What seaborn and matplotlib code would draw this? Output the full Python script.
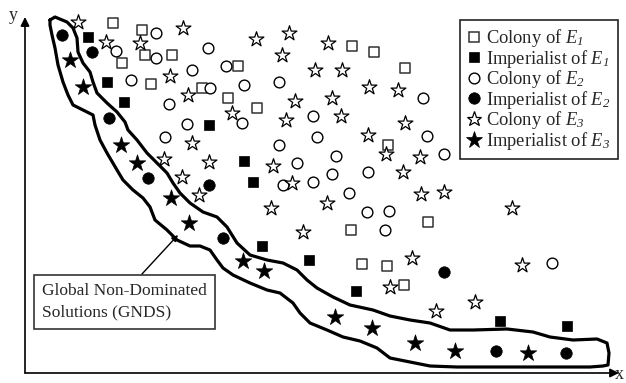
import matplotlib
matplotlib.use("Agg")
import matplotlib.pyplot as plt
from matplotlib.lines import Line2D
import seaborn as sns

# objective values (arbitrary units, origin at the axes corner)
col1_x = [88, 117, 120, 147, 97, 126, 177, 213, 203, 232, 327, 349, 380, 363, 326, 403, 337, 362, 379]
col1_y = [350, 343, 318, 318, 310, 289, 285, 307, 275, 265, 327, 321, 305, 228, 143, 151, 109, 107, 88]

imp1_x = [63, 82, 99, 184, 219, 228, 237, 284, 331, 475, 542]
imp1_y = [336, 291, 271, 248, 212, 191, 127, 113, 82, 52, 47]

col2_x = [131, 91, 131, 183, 106, 167, 201, 219, 254, 185, 144, 217, 162, 288, 140, 254,
          292, 272, 258, 288, 398, 402, 311, 419, 307, 343, 324, 342, 364, 360, 527]
col2_y = [340, 322, 315, 325, 293, 303, 307, 288, 291, 285, 269, 250, 249, 257, 236, 228,
          236, 210, 188, 191, 275, 237, 217, 219, 199, 201, 180, 161, 162, 143, 110]

imp2_x = [37, 67, 84, 123, 184, 198, 419, 471, 541]
imp2_y = [338, 321, 255, 195, 188, 135, 101, 22, 20]

col3_x = [53, 158, 81, 115, 231, 264, 257, 290, 145, 163, 270, 207, 261, 167, 139, 184, 248,
          157, 174, 267, 303, 317, 344, 373, 307, 316, 380, 343, 361, 395, 378, 396, 419, 302,
          246, 278, 487, 387, 497, 365, 450, 411]
col3_y = [351, 345, 331, 330, 334, 340, 318, 303, 297, 278, 272, 260, 253, 230, 214, 211, 207,
          196, 178, 190, 330, 303, 286, 283, 275, 257, 250, 238, 219, 216, 201, 179, 181, 170,
          165, 141, 165, 115, 108, 86, 71, 62]

imp3_x = [45, 58, 96, 112, 146, 164, 218, 239, 310, 347, 390, 430, 503]
imp3_y = [313, 286, 228, 210, 175, 150, 112, 102, 56, 45, 30, 22, 20]

# hand-drawn region around the global non-dominated solutions
gnds_x = [25, 30, 42, 48, 52, 53, 58, 65, 68, 72, 82, 92, 100, 103, 112, 122, 132, 142, 148,
          155, 165, 178, 192, 202, 212, 225, 242, 258, 272, 282, 292, 308, 325, 348, 365, 385,
          405, 425, 448, 482, 508, 525, 548, 572, 582, 584, 583, 578,
          565, 498, 432, 405, 385, 365, 352, 335, 318, 302, 285, 275, 268, 255, 242, 225, 208,
          198, 192, 185, 175, 165, 152, 142, 130, 125, 118, 108, 98, 92, 82, 75, 70, 68, 58,
          48, 43, 38, 33, 30, 27, 25, 25]
gnds_y = [353, 356, 351, 345, 335, 321, 310, 301, 291, 280, 270, 261, 251, 243, 233, 220, 210,
          200, 190, 180, 170, 161, 156, 146, 130, 118, 113, 110, 103, 93, 85, 76, 68, 63, 57,
          53, 50, 43, 43, 44, 41, 36, 33, 34, 30, 20, 8, 7,
          6, 6, 6, 7, 11, 15, 25, 32, 36, 43, 50, 60, 70, 80, 83, 90, 98, 105, 113, 123, 127,
          127, 133, 143, 153, 166, 175, 183, 193, 203, 220, 233, 248, 258, 263, 268, 278, 291,
          308, 325, 338, 348, 353]

labels = [r"Colony of $E_1$", r"Imperialist of $E_1$",
          r"Colony of $E_2$", r"Imperialist of $E_2$",
          r"Colony of $E_3$", r"Imperialist of $E_3$"]

sns.set_style("white")
plt.rcParams["font.family"] = ["Liberation Serif", "DejaVu Serif"]
plt.rcParams["mathtext.fontset"] = "custom"
plt.rcParams["mathtext.rm"] = "Liberation Serif:italic"
plt.rcParams["mathtext.it"] = "Liberation Serif:italic"

fig = plt.figure(figsize=(6.26, 3.83), dpi=100)
ax = fig.add_axes([25 / 626, 10 / 383, 601 / 626, 373 / 383])
ax.set_xlim(0, 601)
ax.set_ylim(0, 373)
ax.axis("off")

# marker styles: (marker, size, face, edge, edge width)
styles = [("s", 52, "white", "#333333", 1.1),
          ("s", 62, "black", "black", 0.5),
          ("o", 60, "white", "black", 1.0),
          ("o", 68, "black", "black", 0.5),
          ("*", 125, "white", "black", 0.9),
          ("*", 155, "black", "black", 0.5)]
groups = [(col1_x, col1_y), (imp1_x, imp1_y), (col2_x, col2_y),
          (imp2_x, imp2_y), (col3_x, col3_y), (imp3_x, imp3_y)]

ax.plot(gnds_x, gnds_y, color="black", lw=2.3, solid_joinstyle="round", zorder=1)

for (gx, gy), (mk, sz, fc, ec, lw) in zip(groups, styles):
    sns.scatterplot(x=gx, y=gy, marker=mk, s=sz, color=fc, edgecolor=ec,
                    linewidth=lw, ax=ax, zorder=3, legend=False)

# axes drawn as arrows
arrow = dict(arrowstyle="-|>", color="black", lw=1.2, mutation_scale=13, shrinkA=0, shrinkB=0)
ax.annotate("", xy=(594, 0), xytext=(0, 0), arrowprops=arrow, annotation_clip=False)
ax.annotate("", xy=(0, 356), xytext=(0, 0), arrowprops=arrow, annotation_clip=False)
ax.text(-12, 358, "y", fontsize=13, ha="center", va="center")
ax.text(590, -10, "x", fontsize=13, ha="left", va="bottom")

# GNDS callout
ax.text(17, 71, "Global Non-Dominated\nSolutions (GNDS)", fontsize=12.5, ha="left", va="center",
        linespacing=1.45,
        bbox=dict(boxstyle="square,pad=0.45", fc="white", ec="#333333", lw=1.2))
ax.annotate("", xy=(153, 138), xytext=(117, 99),
            arrowprops=dict(arrowstyle="-|>", color="black", lw=1, mutation_scale=9,
                            shrinkA=0, shrinkB=0))

handles = [Line2D([], [], ls="none", marker=mk, markersize=sz ** 0.5, markerfacecolor=fc,
                  markeredgecolor=ec, markeredgewidth=lw)
           for mk, sz, fc, ec, lw in styles]
leg = ax.legend(handles, labels, loc="upper right", bbox_to_anchor=(618 / 626, 1 - 20 / 383),
                bbox_transform=fig.transFigure, borderaxespad=0, fontsize=13.3,
                labelspacing=-0.08, handlelength=0.75, handletextpad=0.3, borderpad=0.4,
                fancybox=False, framealpha=1, edgecolor="#222222")
leg.get_frame().set_linewidth(1.2)

plt.savefig("out.png", dpi=100)
